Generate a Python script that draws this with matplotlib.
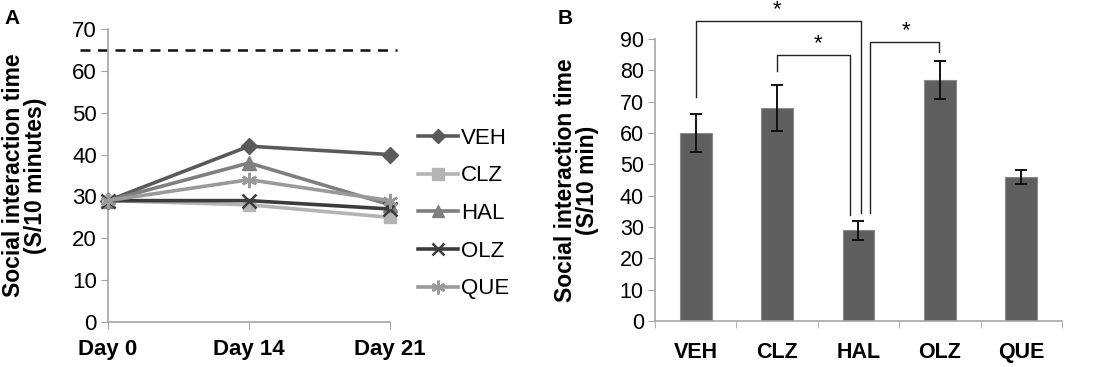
import matplotlib
matplotlib.use("Agg")
import matplotlib.pyplot as plt
import numpy as np

plt.rcParams['font.family'] = ['Liberation Sans', 'DejaVu Sans']

# Panel A data
days = ["Day 0", "Day 14", "Day 21"]
veh_a = [29, 42, 40]
clz_a = [29, 28, 25]
hal_a = [29, 38, 28]
olz_a = [29, 29, 27]
que_a = [29, 34, 29]
baseline = 65
yticks_a = [0, 10, 20, 30, 40, 50, 60, 70]

# Panel B data
groups = ["VEH", "CLZ", "HAL", "OLZ", "QUE"]
means_b = [60, 68, 29, 77, 46]
errs_b = [6, 7.3, 3, 6, 2.3]
yticks_b = [0, 10, 20, 30, 40, 50, 60, 70, 80, 90]

fig = plt.figure(figsize=(11.03, 3.67), dpi=100)
axis_gray = '#a6a6a6'

# ---------- Panel A ----------
axA = fig.add_axes([0.0979, 0.1226, 0.2557, 0.7984])
x = np.arange(len(days))
series = [
    ("VEH", veh_a, '#5a5a5a', 'D', 8),
    ("CLZ", clz_a, '#b4b4b4', 's', 9),
    ("HAL", hal_a, '#7f7f7f', '^', 10),
    ("OLZ", olz_a, '#3c3c3c', 'x', 10),
    ("QUE", que_a, '#9a9a9a', (6, 2, 0), 11),
]
handles = []
for name, vals, col, mk, ms in series:
    h, = axA.plot(x, vals, color=col, lw=2.6, marker=mk, markersize=ms,
                  markeredgecolor=col, markerfacecolor=col,
                  mew=1.8 if mk in ('x', (6, 2, 0)) else 1,
                  label=name, clip_on=False, zorder=3)
    handles.append(h)
axA.plot([-0.2, 2.05], [baseline, baseline], ls=(0, (4, 3)), color='#111111', lw=1.8, clip_on=False)
axA.set_xlim(0, 2)
axA.set_ylim(0, 70)
axA.set_yticks(yticks_a)
axA.set_xticks(x)
axA.set_xticklabels(days, fontsize=16, fontweight='bold')
axA.tick_params(axis='y', labelsize=16, length=5, color=axis_gray, pad=3)
axA.tick_params(axis='x', length=5, color=axis_gray, pad=7)
for s in ['top', 'right']:
    axA.spines[s].set_visible(False)
for s in ['left', 'bottom']:
    axA.spines[s].set_color(axis_gray)
    axA.spines[s].set_linewidth(1.2)
axA.set_ylabel("Social interaction time\n(S/10 minutes)", fontsize=16.5, fontweight='bold',
               labelpad=18, linespacing=0.95)
leg = axA.legend(handles=handles, loc='center left', bbox_to_anchor=(1.03, 0.37), frameon=False,
                 fontsize=16, handlelength=1.8, handletextpad=0.1, labelspacing=0.75, markerscale=0.9)
fig.text(0.004, 0.935, "A", fontsize=15, fontweight='bold')

# ---------- Panel B ----------
axB = fig.add_axes([0.5938, 0.1253, 0.369, 0.7684])
xb = np.arange(len(groups))
axB.bar(xb, means_b, width=0.39, color='#5f5f5f', edgecolor='#8a8a8a', linewidth=0.8, zorder=2)
axB.errorbar(xb, means_b, yerr=errs_b, fmt='none', ecolor='#111111', elinewidth=1.4,
             capsize=4, capthick=1.4, zorder=3)
axB.set_xlim(-0.5, 4.5)
axB.set_ylim(0, 90)
axB.set_yticks(yticks_b)
axB.set_xticks(xb)
axB.set_xticklabels(groups, fontsize=15.5, fontweight='bold')
axB.set_xticks(np.arange(-0.5, 5.0, 1.0), minor=True)
axB.tick_params(axis='x', which='major', length=0, pad=15)
axB.tick_params(axis='x', which='minor', length=5, color=axis_gray)
axB.tick_params(axis='y', labelsize=15.5, length=5, color=axis_gray, pad=3)
for s in ['top', 'right']:
    axB.spines[s].set_visible(False)
for s in ['left', 'bottom']:
    axB.spines[s].set_color(axis_gray)
    axB.spines[s].set_linewidth(1.2)
axB.set_ylabel("Social interaction time\n(S/10 min)", fontsize=16.5, fontweight='bold',
               labelpad=15, linespacing=0.95)

brk = dict(color='#222222', lw=1.0, clip_on=False)
# VEH - HAL
axB.plot([0, 0, 2.03, 2.03], [71.6, 95.9, 95.9, 34.4], **brk)
axB.text(1.0, 99.5, "*", ha='center', va='center', fontsize=16, clip_on=False)
# CLZ - HAL
axB.plot([1, 1, 1.89, 1.89], [79.8, 84.9, 84.9, 33.8], **brk)
axB.text(1.5, 88.5, "*", ha='center', va='center', fontsize=16, clip_on=False)
# HAL - OLZ
axB.plot([2.14, 2.14, 2.99, 2.99], [34.4, 89, 89, 86], **brk)
axB.text(2.58, 92.5, "*", ha='center', va='center', fontsize=16, clip_on=False)

fig.text(0.506, 0.935, "B", fontsize=15, fontweight='bold')

fig.savefig("out.png", dpi=100)
